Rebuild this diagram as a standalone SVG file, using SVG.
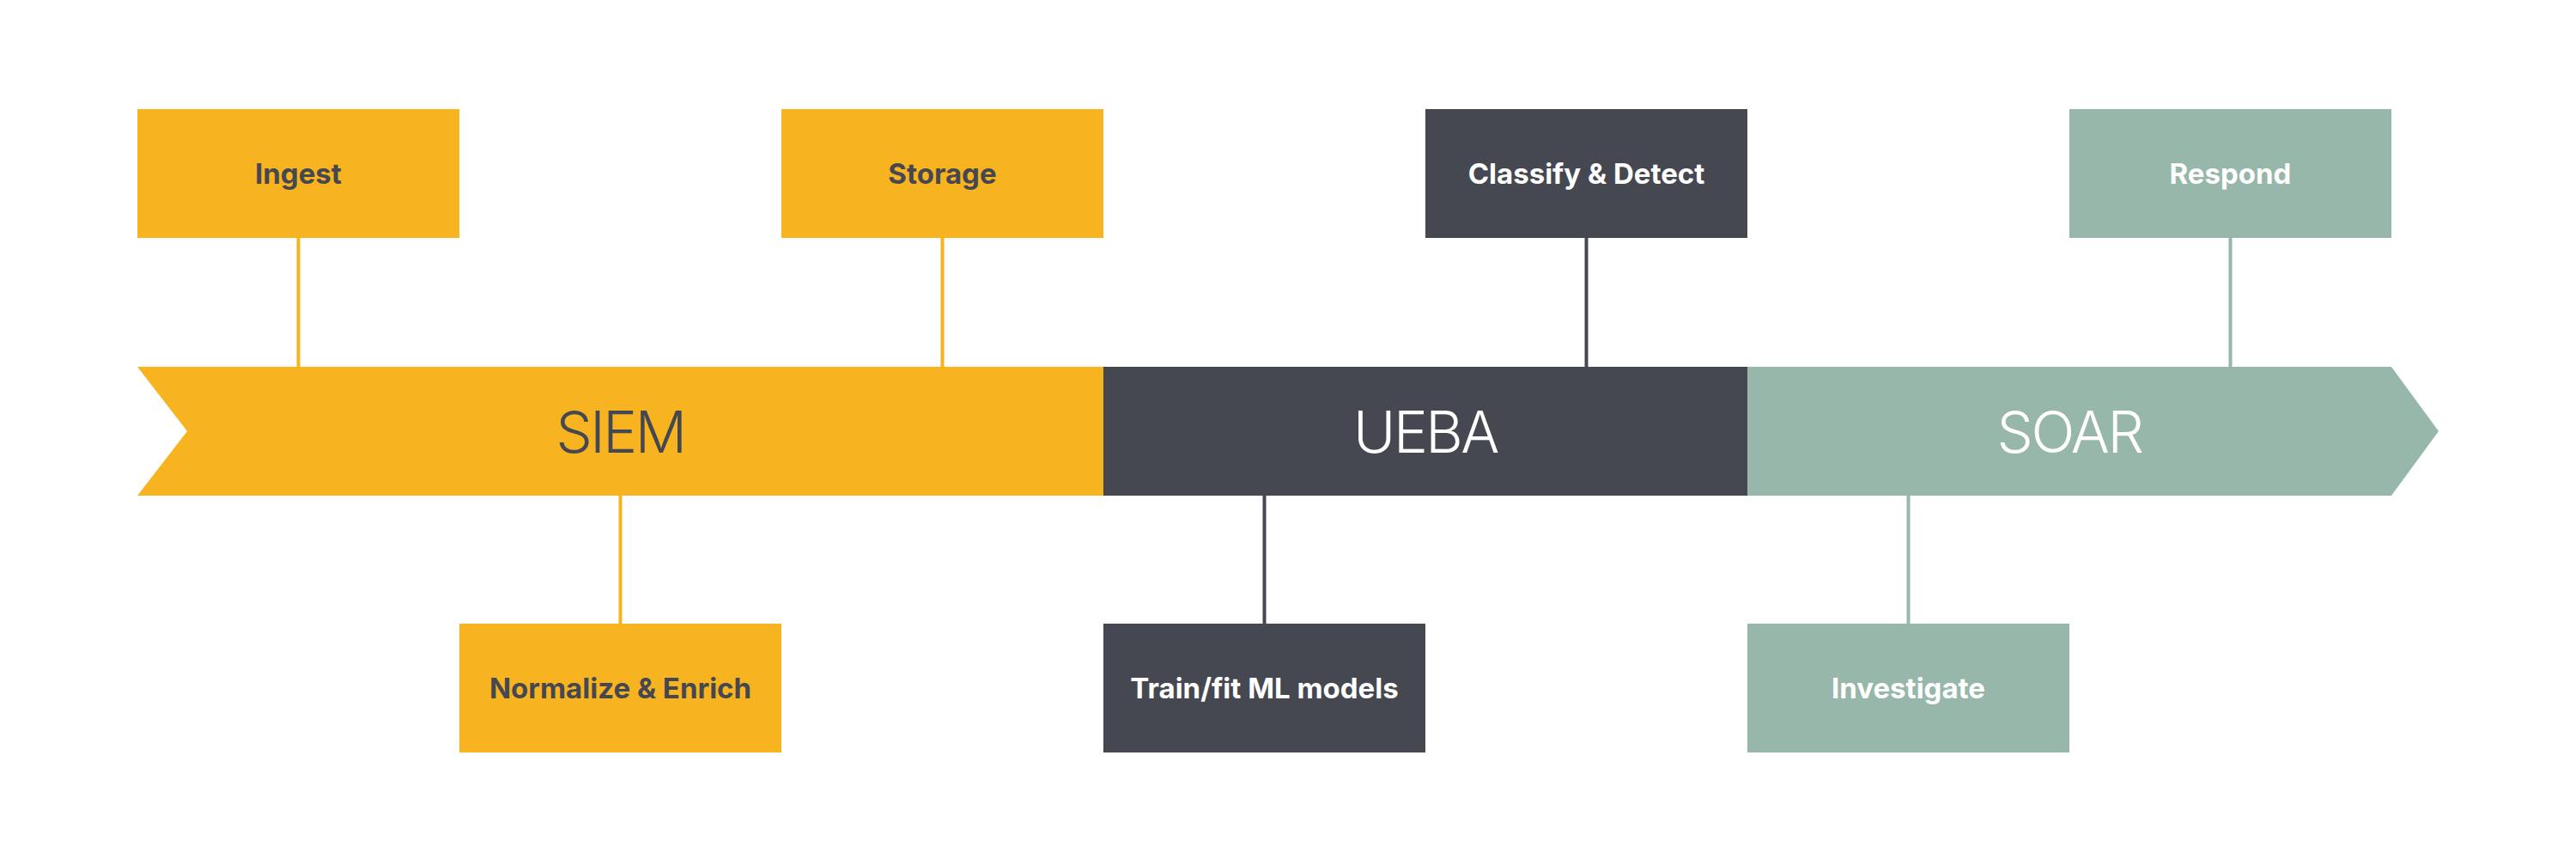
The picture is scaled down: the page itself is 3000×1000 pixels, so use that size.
<svg xmlns="http://www.w3.org/2000/svg" width="3000" height="1000" viewBox="0 0 3000 1000">
<style>
.y{fill:#F8B320}.d{fill:#454850}.g{fill:#96B7A9}
.ly{stroke:#F8B320}.ld{stroke:#454850}.lg{stroke:#96B7A9}
line{stroke-width:4}
.lab{font-family:Inter,"Open Sans",sans-serif;font-weight:700;font-size:33px;text-anchor:middle}
.tit{font-family:Inter,"Open Sans",sans-serif;font-weight:300;font-size:67px;letter-spacing:-2.5px;text-anchor:middle}
.tw{fill:#FFFFFF}.tk{fill:#454850}
</style>
<rect width="3000" height="1000" fill="#FFFFFF"/>
<g id="connectors">
<line class="ly" x1="347.5" y1="277" x2="347.5" y2="427"/>
<line class="ly" x1="1097.5" y1="277" x2="1097.5" y2="427"/>
<line class="ly" x1="722.5" y1="577" x2="722.5" y2="726"/>
<line class="ld" x1="1847.5" y1="277" x2="1847.5" y2="427"/>
<line class="ld" x1="1472.5" y1="577" x2="1472.5" y2="726"/>
<line class="lg" x1="2597.5" y1="277" x2="2597.5" y2="427"/>
<line class="lg" x1="2222.5" y1="577" x2="2222.5" y2="726"/>
</g>
<g id="siem"><polygon class="y" points="160,427 1285,427 1285,577 160,577 218,502"/><text class="tit tk" x="722.5" y="527">SIEM</text></g>
<g id="ueba"><rect class="d" x="1285" y="427" width="750" height="150"/><text class="tit tw" x="1660" y="527">UEBA</text></g>
<g id="soar"><polygon class="g" points="2035,427 2785,427 2840,502 2785,577 2035,577"/><text class="tit tw" x="2410" y="527">SOAR</text></g>
<g id="ingest"><rect class="y" x="160" y="127" width="375" height="150"/><text class="lab tk" x="347.5" y="214">Ingest</text></g>
<g id="storage"><rect class="y" x="910" y="127" width="375" height="150"/><text class="lab tk" x="1097.5" y="214">Storage</text></g>
<g id="classify"><rect class="d" x="1660" y="127" width="375" height="150"/><text class="lab tw" x="1847.5" y="214">Classify &amp; Detect</text></g>
<g id="respond"><rect class="g" x="2410" y="127" width="375" height="150"/><text class="lab tw" x="2597.5" y="214">Respond</text></g>
<g id="normalize"><rect class="y" x="535" y="726" width="375" height="150"/><text class="lab tk" x="722.5" y="813">Normalize &amp; Enrich</text></g>
<g id="train"><rect class="d" x="1285" y="726" width="375" height="150"/><text class="lab tw" x="1472.5" y="813">Train/fit ML models</text></g>
<g id="investigate"><rect class="g" x="2035" y="726" width="375" height="150"/><text class="lab tw" x="2222.5" y="813">Investigate</text></g>
</svg>
